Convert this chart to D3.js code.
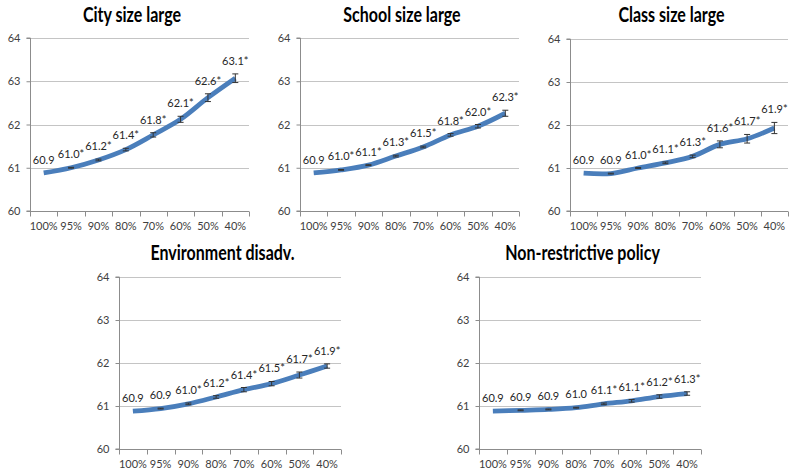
<!DOCTYPE html>
<html><head><meta charset="utf-8">
<script src="https://cdn.jsdelivr.net/npm/d3@7"></script>
<style>body{margin:0;background:#fff}svg{display:block}</style>
</head><body>
<svg id="c" width="800" height="475"></svg>
<script>
const categories = ["100%","95%","90%","80%","70%","60%","50%","40%"];
const yTicks = [60,61,62,63,64];
const titles = ["City size large","School size large","Class size large","Environment disadv.","Non-restrictive policy"];

const cityValues   = [60.88,61.00,61.18,61.42,61.76,62.12,62.62,63.07];
const schoolValues = [60.88,60.95,61.06,61.27,61.48,61.76,61.96,62.26];
const classValues  = [60.88,60.87,61.00,61.12,61.27,61.55,61.68,61.93];
const envValues    = [60.88,60.94,61.05,61.21,61.38,61.52,61.72,61.93];
const policyValues = [60.88,60.90,60.92,60.96,61.05,61.12,61.22,61.29];

const cityLabels   = ["60.9","61.0*","61.2*","61.4*","61.8*","62.1*","62.6*","63.1*"];
const schoolLabels = ["60.9","61.0*","61.1*","61.3*","61.5*","61.8*","62.0*","62.3*"];
const classLabels  = ["60.9","60.9","61.0*","61.1*","61.3*","61.6*","61.7*","61.9*"];
const envLabels    = ["60.9","60.9","61.0*","61.2*","61.4*","61.5*","61.7*","61.9*"];
const policyLabels = ["60.9","60.9","60.9","61.0","61.1*","61.1*","61.2*","61.3*"];

const cityErr   = [0,0.01,0.02,0.03,0.05,0.07,0.09,0.10];
const schoolErr = [0,0.01,0.01,0.02,0.02,0.03,0.04,0.07];
const classErr  = [0,0.01,0.01,0.02,0.03,0.08,0.10,0.13];
const envErr    = [0,0.01,0.02,0.03,0.05,0.05,0.07,0.05];
const policyErr = [0,0.01,0.01,0.01,0.02,0.03,0.04,0.04];

const series = [
  {values:cityValues, labels:cityLabels, err:cityErr},
  {values:schoolValues, labels:schoolLabels, err:schoolErr},
  {values:classValues, labels:classLabels, err:classErr},
  {values:envValues, labels:envLabels, err:envErr},
  {values:policyValues, labels:policyLabels, err:policyErr}
];
// layout boxes for each panel (plot area)
const boxes = [
  {x0:30, x1:249, y0:38, y1:211, ty:22},
  {x0:300, x1:519, y0:38, y1:211, ty:22},
  {x0:570, x1:788, y0:39, y1:211, ty:22},
  {x0:119, x1:341, y0:277, y1:449, ty:260},
  {x0:479, x1:701, y0:277, y1:449, ty:260}
];

const svg = d3.select("#c");
const lineColor = "#4a7ebb";
const tickFont = "11px";

series.forEach((s,i)=>{
  const b = boxes[i];
  const x = d3.scaleBand().domain(categories).range([b.x0,b.x1]);
  const y = d3.scaleLinear().domain([60,64]).range([b.y1,b.y0]);
  const g = svg.append("g");

  // gridlines
  g.selectAll("line.grid").data(yTicks.filter(t=>t>60)).join("line")
    .attr("x1",b.x0).attr("x2",b.x1)
    .attr("y1",d=>Math.round(y(d))+0.5).attr("y2",d=>Math.round(y(d))+0.5)
    .attr("stroke","#c4c4c4").attr("stroke-width",1);

  // y axis
  const ya = g.append("g").attr("transform",`translate(${b.x0+0.5},0)`)
    .call(d3.axisLeft(y).tickValues(yTicks).tickSize(4).tickPadding(6).tickFormat(d3.format("d")));
  ya.select(".domain").attr("stroke","#8c8c8c").attr("d",`M-4,${b.y1}H0V${b.y0}H-4`);
  ya.selectAll(".tick line").attr("stroke","#8c8c8c");
  ya.selectAll(".tick text").attr("font-family","Lato, sans-serif").attr("font-size",tickFont).attr("fill","#404040");

  // x axis
  const xa = g.append("g").attr("transform",`translate(0,${Math.round(b.y1)+0.5})`)
    .call(d3.axisBottom(x).tickSize(0).tickPadding(11));
  xa.select(".domain").attr("stroke","#8c8c8c").attr("d",`M${b.x0},0H${b.x1}`);
  xa.selectAll(".tick text").attr("font-family","Lato, sans-serif").attr("font-size",tickFont).attr("fill","#404040");
  const bounds = categories.map(c=>x(c)).concat([b.x1]);
  xa.selectAll("line.bt").data(bounds).join("line")
    .attr("x1",d=>Math.round(d)+0.5).attr("x2",d=>Math.round(d)+0.5)
    .attr("y1",0).attr("y2",5).attr("stroke","#8c8c8c");

  // line
  const pts = categories.map((c,k)=>[x(c)+x.bandwidth()/2, y(s.values[k])]);
  g.append("path").attr("d", d3.line().curve(d3.curveCatmullRom.alpha(0.5))(pts))
    .attr("fill","none").attr("stroke",lineColor).attr("stroke-width",4.8).attr("stroke-linecap","butt");

  // error bars
  const eb = g.selectAll("g.eb").data(categories.map((c,k)=>({c,k}))).join("g");
  eb.filter(d=>s.err[d.k]>0).each(function(d){
    const cx = x(d.c)+x.bandwidth()/2;
    const hi = y(s.values[d.k]+s.err[d.k]), lo = y(s.values[d.k]-s.err[d.k]);
    const e = d3.select(this);
    e.append("line").attr("x1",cx).attr("x2",cx).attr("y1",hi).attr("y2",lo).attr("stroke","#333").attr("stroke-width",1);
    e.append("line").attr("x1",cx-3).attr("x2",cx+3).attr("y1",hi).attr("y2",hi).attr("stroke","#333").attr("stroke-width",1);
    e.append("line").attr("x1",cx-3).attr("x2",cx+3).attr("y1",lo).attr("y2",lo).attr("stroke","#333").attr("stroke-width",1);
  });

  // data labels
  g.selectAll("text.dl").data(categories.map((c,k)=>({c,k}))).join("text")
    .attr("x",d=>x(d.c)+x.bandwidth()/2)
    .attr("y",d=>y(s.values[d.k]+s.err[d.k])-9)
    .attr("text-anchor","middle")
    .attr("font-family","Lato, sans-serif").attr("font-size","11px").attr("fill","#262626")
    .text(d=>s.labels[d.k]);

  // title (horizontally condensed to mimic a narrow bold face)
  const tx = (b.x0+b.x1)/2-7.5;
  g.append("text").attr("transform",`translate(${tx},${b.ty}) scale(0.8,1)`)
    .attr("text-anchor","middle").attr("font-family","Lato, sans-serif").attr("font-weight","bold")
    .attr("font-size","20px").attr("fill","#000").text(titles[i]);
});
</script>
</body></html>
